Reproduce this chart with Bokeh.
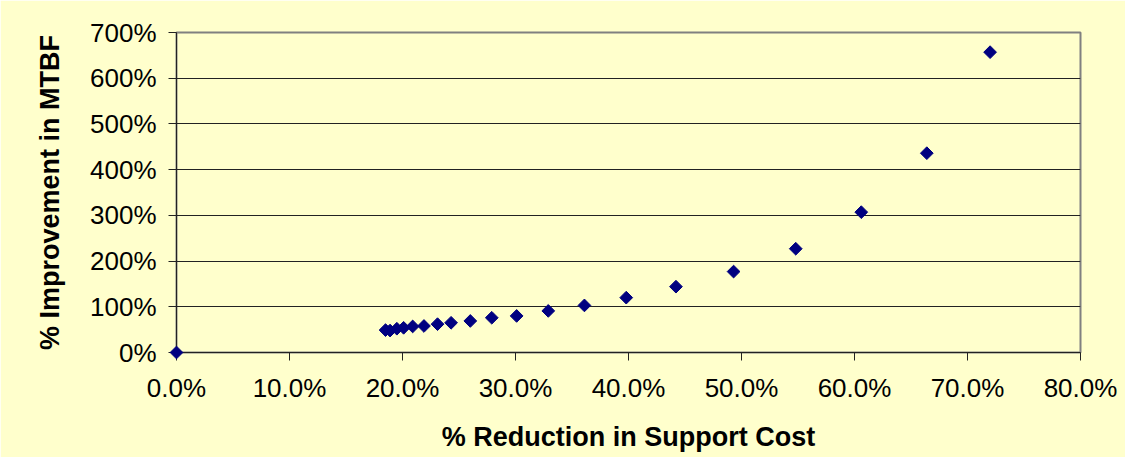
from bokeh.plotting import figure
from bokeh.models import Range1d, FixedTicker, PrintfTickFormatter, ColumnDataSource
from bokeh.embed import file_html
from bokeh.resources import INLINE
import math

# % Reduction in Support Cost (x, percent) and % Improvement in MTBF (y, percent)
support_cost_reduction = [0.0, 18.5, 18.9, 19.5, 20.1, 20.9, 21.9, 23.1, 24.3, 26.0, 27.9,
                          30.1, 32.9, 36.1, 39.8, 44.2, 49.3, 54.8, 60.6, 66.4, 72.0]
mtbf_improvement = [0.0, 49, 48, 52, 54, 57, 58, 62, 65, 69, 76,
                    80, 91, 103, 120, 144, 177, 227, 307, 436, 657]
x_ticks = [0, 10, 20, 30, 40, 50, 60, 70, 80]
y_ticks = [0, 100, 200, 300, 400, 500, 600, 700]

BG = "#FFFFCC"
FONT = "Liberation Sans"

src = ColumnDataSource(dict(x=support_cost_reduction, y=mtbf_improvement))

p = figure(width=1125, height=457, output_backend="svg", toolbar_location=None,
           x_range=Range1d(0, 80), y_range=Range1d(0, 700),
           min_border_left=176, min_border_right=45, min_border_top=32, min_border_bottom=105)
p.background_fill_color = BG
p.border_fill_color = BG
p.outline_line_color = "#808080"
p.outline_line_width = 2

r = p.scatter("x", "y", source=src, marker="square", size=9, angle=math.pi / 4,
              fill_color="#000080", line_color="#000080")
r.level = "overlay"
if "clip" in r.properties():
    r.clip = False

p.xgrid.grid_line_color = None
p.ygrid.grid_line_color = "#222222"
p.ygrid.grid_line_width = 1

p.xaxis.ticker = FixedTicker(ticks=x_ticks)
p.yaxis.ticker = FixedTicker(ticks=y_ticks)
p.xaxis.formatter = PrintfTickFormatter(format="%.1f%%")
p.yaxis.formatter = PrintfTickFormatter(format="%d%%")

for ax in (p.xaxis[0], p.yaxis[0]):
    ax.axis_line_color = "#222222"
    ax.major_tick_line_color = "#222222"
    ax.major_tick_in = 0
    ax.major_tick_out = 8
    ax.minor_tick_line_color = None
    ax.major_label_text_font = FONT
    ax.major_label_text_font_size = "26px"
    ax.major_label_text_color = "#000000"
    ax.axis_label_text_font = FONT
    ax.axis_label_text_font_size = "27px"
    ax.axis_label_text_font_style = "bold"
    ax.axis_label_text_color = "#000000"

p.xaxis.axis_label = "% Reduction in Support Cost"
p.yaxis.axis_label = "% Improvement in MTBF"
p.xaxis.major_label_standoff = 12
p.yaxis.major_label_standoff = 12
p.xaxis.axis_label_standoff = 16
p.yaxis.axis_label_standoff = 22

open("out.html", "w").write(file_html(p, INLINE))
